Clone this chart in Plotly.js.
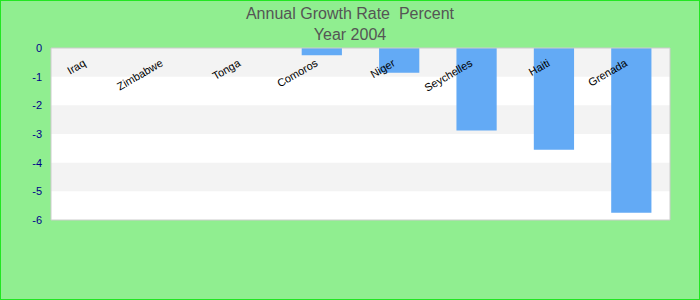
<!DOCTYPE html>
<html>
<head>
<meta charset="utf-8">
<script src="https://cdn.plot.ly/plotly-3.0.1.min.js"></script>
<style>
html,body{margin:0;padding:0;background:#90ee90;}
#wrap{width:698px;height:298px;border:1px solid #22e622;}
#chart{width:698px;height:298px;}
</style>
</head>
<body>
<div id="wrap"><div id="chart"></div></div>
<script>
const countries = ["Iraq","Zimbabwe","Tonga","Comoros","Niger","Seychelles","Haiti","Grenada"];
const growthRate = [0, 0, 0, -0.25, -0.86, -2.88, -3.55, -5.75];
const yTickVals = [0, -1, -2, -3, -4, -5, -6];
const yTickText = ["0", "-1", "-2", "-3", "-4", "-5", "-6"];

const bands = [];
for (let i = 0; i < yTickVals.length - 1; i += 2) {
  bands.push({type:'rect', xref:'paper', yref:'y', x0:0, x1:1,
    y0:yTickVals[i], y1:yTickVals[i+1], fillcolor:'#f3f3f3', line:{width:0}, layer:'below'});
}
bands.push({type:'rect', xref:'paper', yref:'paper', x0:0, x1:1, y0:0, y1:1,
  line:{color:'#cccccc', width:1}, layer:'above'});

const data = [{
  type:'bar', x:countries, y:growthRate,
  marker:{color:'#63aaf5'}, hoverinfo:'x+y'
}];

const layout = {
  width:698, height:298,
  margin:{l:50, r:29, t:47, b:79, pad:0},
  paper_bgcolor:'#90ee90', plot_bgcolor:'#ffffff',
  font:{family:'"Liberation Sans", Arial, sans-serif', size:11, color:'#000'},
  title:{text:'Annual Growth Rate  Percent<br>Year 2004', font:{size:16, color:'#555555'},
    x:0.5, xanchor:'center', yref:'container', y:0.94, yanchor:'top'},
  bargap:0.48,
  showlegend:false,
  xaxis:{type:'category', anchor:'free', position:0.965, side:'bottom',
    showline:false, showgrid:false, zeroline:false, ticks:'', tickangle:-30,
    ticklabelshift:-6,
    tickfont:{size:11, color:'#000'}, fixedrange:true},
  yaxis:{range:[-6,0], tickvals:yTickVals, ticktext:yTickText,
    showgrid:false, zeroline:false, showline:false, ticks:'',
    ticklabelstandoff:8,
    tickfont:{size:11, color:'#00008b'}, fixedrange:true},
  shapes:bands
};

Plotly.newPlot('chart', data, layout, {displayModeBar:false, staticPlot:true});
</script>
</body>
</html>
